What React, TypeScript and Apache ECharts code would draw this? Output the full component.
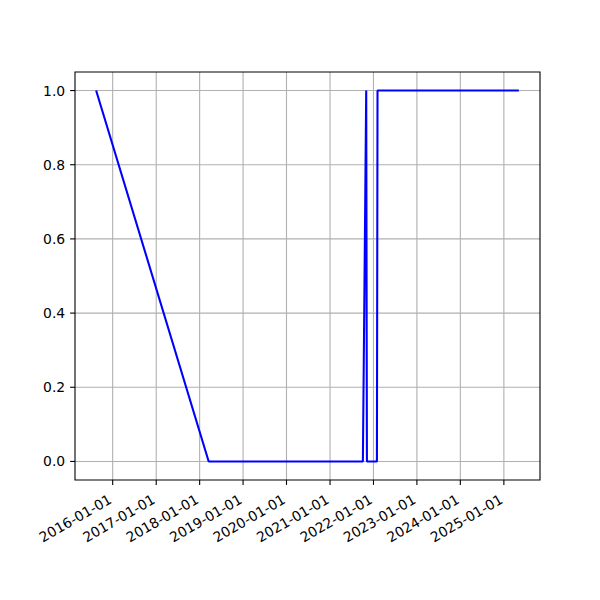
import React, { useEffect, useRef } from "react";
import * as echarts from "echarts";

const dates = [
  "2015-08-15",
  "2018-03-18",
  "2021-10-04",
  "2021-11-01",
  "2021-11-07",
  "2022-01-30",
  "2022-02-04",
  "2025-05-07",
];
const values = [1, 0, 0, 1, 0, 0, 1, 1];

const xTickLabels = [
  "2016-01-01",
  "2017-01-01",
  "2018-01-01",
  "2019-01-01",
  "2020-01-01",
  "2021-01-01",
  "2022-01-01",
  "2023-01-01",
  "2024-01-01",
  "2025-01-01",
];
const yTicks = [0, 0.2, 0.4, 0.6, 0.8, 1.0];

const toMs = (s: string) => {
  const [y, m, d] = s.split("-").map(Number);
  return Date.UTC(y, m - 1, d);
};

export default function App() {
  const ref = useRef<HTMLDivElement>(null);
  useEffect(() => {
    if (!ref.current) return;
    const chart = echarts.init(ref.current, null, { renderer: "svg" });
    const xs = dates.map(toMs);
    const span = xs[xs.length - 1] - xs[0];
    const xMin = xs[0] - 0.05 * span;
    const xMax = xs[xs.length - 1] + 0.05 * span;
    const yMin = -0.05;
    const yMax = 1.05;
    const font = "DejaVu Sans";
    const fs = 13.9;

    chart.setOption({
      animation: false,
      backgroundColor: "#ffffff",
      grid: {
        left: 75,
        top: 72,
        width: 465,
        height: 408,
        show: true,
        borderColor: "#000000",
        borderWidth: 1.1,
        backgroundColor: "transparent",
        z: 3,
      },
      xAxis: {
        type: "value",
        min: xMin,
        max: xMax,
        axisLabel: { show: false },
        axisTick: { show: false },
        axisLine: { show: false },
        splitLine: { show: false },
      },
      yAxis: {
        type: "value",
        min: yMin,
        max: yMax,
        axisLabel: { show: false },
        axisTick: { show: false },
        axisLine: { show: false },
        splitLine: { show: false },
      },
      series: [
        {
          type: "custom",
          z: 1,
          clip: false,
          silent: true,
          data: xTickLabels.map((l) => [toMs(l), 0]),
          renderItem: (params: any, api: any) => {
            const p = api.coord([api.value(0), 0]);
            const cs = params.coordSys;
            const bottom = cs.y + cs.height;
            const label = xTickLabels[params.dataIndex];
            return {
              type: "group",
              children: [
                {
                  type: "line",
                  shape: { x1: p[0], y1: cs.y, x2: p[0], y2: bottom },
                  style: { stroke: "#b0b0b0", lineWidth: 1.1 },
                },
                {
                  type: "line",
                  shape: { x1: p[0], y1: bottom, x2: p[0], y2: bottom + 4.9 },
                  style: { stroke: "#000000", lineWidth: 1.1 },
                },
                {
                  type: "text",
                  x: p[0] - 2.5,
                  y: bottom + 18,
                  rotation: Math.PI / 6,
                  style: {
                    text: label,
                    align: "right",
                    verticalAlign: "middle",
                    fontSize: fs,
                    fontFamily: font,
                    fill: "#000000",
                  },
                },
              ],
            };
          },
        },
        {
          type: "custom",
          z: 1,
          clip: false,
          silent: true,
          data: yTicks.map((v) => [xMin, v]),
          renderItem: (params: any, api: any) => {
            const p = api.coord([xMin, api.value(1)]);
            const cs = params.coordSys;
            const label = yTicks[params.dataIndex].toFixed(1);
            return {
              type: "group",
              children: [
                {
                  type: "line",
                  shape: { x1: cs.x, y1: p[1], x2: cs.x + cs.width, y2: p[1] },
                  style: { stroke: "#b0b0b0", lineWidth: 1.1 },
                },
                {
                  type: "line",
                  shape: { x1: cs.x - 4.9, y1: p[1], x2: cs.x, y2: p[1] },
                  style: { stroke: "#000000", lineWidth: 1.1 },
                },
                {
                  type: "text",
                  x: cs.x - 9.8,
                  y: p[1],
                  style: {
                    text: label,
                    align: "right",
                    verticalAlign: "middle",
                    fontSize: fs,
                    fontFamily: font,
                    fill: "#000000",
                  },
                },
              ],
            };
          },
        },
        {
          type: "line",
          z: 2,
          showSymbol: false,
          symbol: "none",
          clip: false,
          lineStyle: { color: "#0000ff", width: 2.08 },
          data: xs.map((x, i) => [x, values[i]]),
        },
      ],
    });
    return () => chart.dispose();
  }, []);
  return (
    <div
      ref={ref}
      style={{ position: "fixed", left: 0, top: 0, width: 600, height: 600, background: "#fff" }}
    />
  );
}
